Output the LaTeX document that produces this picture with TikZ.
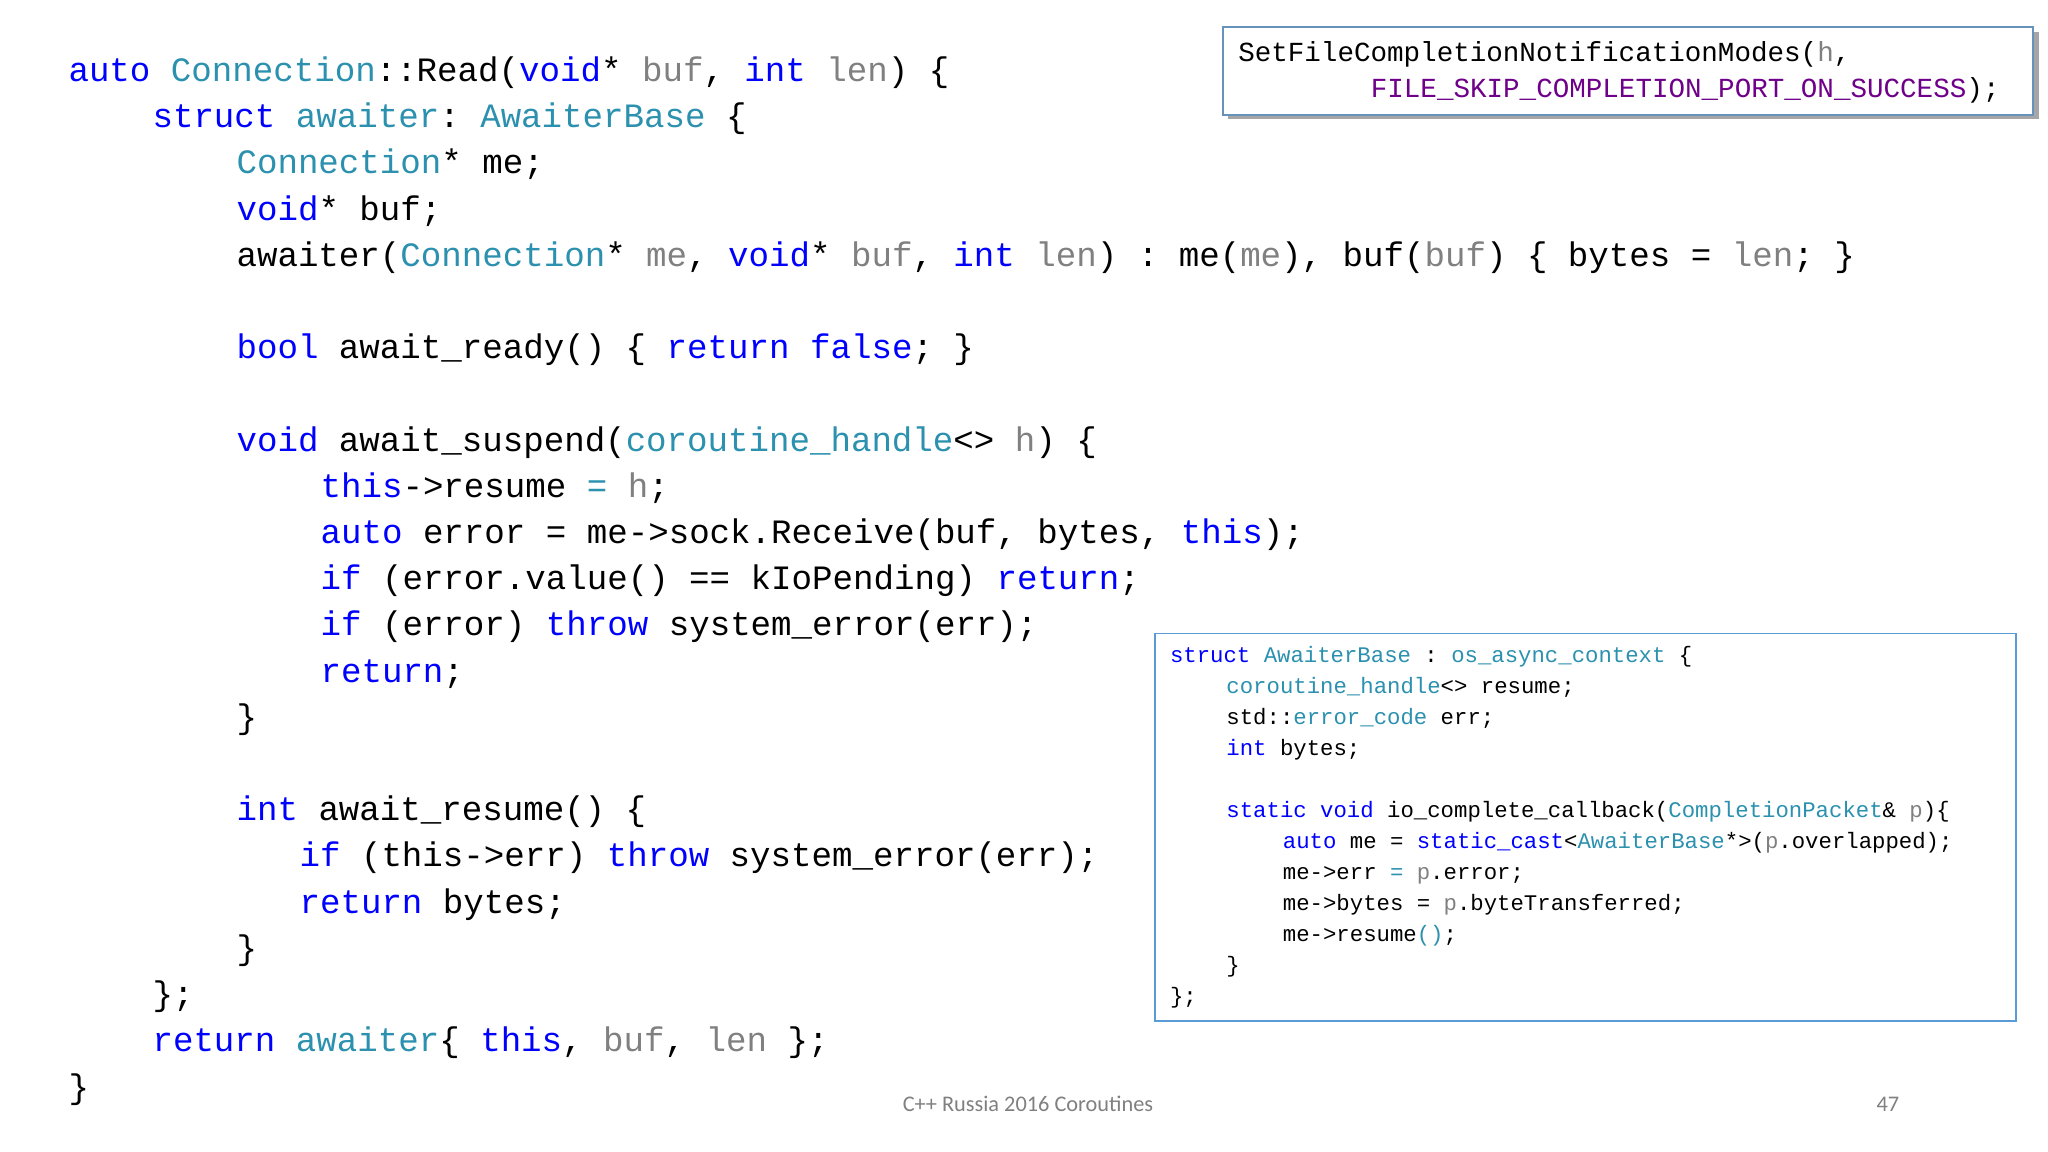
\documentclass[tikz,border=0pt]{standalone}
\usepackage{fontspec}
\setmonofont{Liberation Mono}
\newfontfamily\foot{Carlito}
\definecolor{kwc}{HTML}{0000FF}
\definecolor{tyc}{HTML}{2B91AF}
\definecolor{pac}{HTML}{808080}
\definecolor{mac}{HTML}{6F008A}
\definecolor{bxc}{HTML}{5B9BD5}
\newcommand{\kw}[1]{\textcolor{kwc}{#1}}
\newcommand{\ty}[1]{\textcolor{tyc}{#1}}
\newcommand{\pa}[1]{\textcolor{pac}{#1}}
\newcommand{\mc}[1]{\textcolor{mac}{#1}}
\begin{document}
\begin{tikzpicture}[x=1pt,y=-1pt,
  cl/.style={anchor=base west,inner sep=0pt,font=\ttfamily\fontsize{26}{26}\selectfont},
  sl/.style={anchor=base west,inner sep=0pt,font=\ttfamily\fontsize{17}{17}\selectfont},
  bl/.style={anchor=base west,inner sep=0pt,font=\ttfamily\fontsize{21}{21}\selectfont}]
\useasboundingbox[fill=white] (0,0) rectangle (1560,877.5);
\def\L#1#2#3{\node[cl] (m#1) at (#2,{62+35.2*#1}) {#3};}
\L{0}{52}{\kw{auto} \ty{Connection}::Read(\kw{void}* \pa{buf}, \kw{int} \pa{len}) \{}
\L{1}{116}{\kw{struct} \ty{awaiter}: \ty{AwaiterBase} \{}
\L{2}{180}{\ty{Connection}* me;}
\L{3}{180}{\kw{void}* buf;}
\L{4}{180}{awaiter(\ty{Connection}* \pa{me}, \kw{void}* \pa{buf}, \kw{int} \pa{len}) : me(\pa{me}), buf(\pa{buf}) \{ bytes = \pa{len}; \}}
\L{6}{180}{\kw{bool} await\_ready() \{ \kw{return} \kw{false}; \}}
\L{8}{180}{\kw{void} await\_suspend(\ty{coroutine\_handle}<> \pa{h}) \{}
\L{9}{244}{\kw{this}->resume \ty{=} \pa{h};}
\L{10}{244}{\kw{auto} error = me->sock.Receive(buf, bytes, \kw{this});}
\L{11}{244}{\kw{if} (error.value() == kIoPending) \kw{return};}
\L{12}{244}{\kw{if} (error) \kw{throw} system\_error(err);}
\L{13}{244}{\kw{return};}
\L{14}{180}{\}}
\L{16}{180}{\kw{int} await\_resume() \{}
\L{17}{228}{\kw{if} (this->err) \kw{throw} system\_error(err);}
\L{18}{228}{\kw{return} bytes;}
\L{19}{180}{\}}
\L{20}{116}{\};}
\L{21}{116}{\kw{return} \ty{awaiter}\{ \kw{this}, \pa{buf}, \pa{len} \};}
\L{22}{52}{\}}
% box 1
\fill[black!35] (935,24) rectangle (1553,91);
\node[draw=bxc!70!gray,line width=1.2pt,fill=white,minimum width=617pt,minimum height=67pt,anchor=north west,inner sep=0pt] (b1) at (931,20) {};
\node[bl] (b1a) at (943,47) {SetFileCompletionNotificationModes(\pa{h},};
\node[bl] (b1b) at (1044,74) {\mc{FILE\_SKIP\_COMPLETION\_PORT\_ON\_SUCCESS});};
% box 2
\node[draw=bxc,line width=1.2pt,fill=white,minimum width=656pt,minimum height=295pt,anchor=north west,inner sep=0pt] (b2) at (879,482) {};
\def\S#1#2#3{\node[sl] (s#1) at (#2,{505+23.6*#1}) {#3};}
\S{0}{891}{\kw{struct} \ty{AwaiterBase} : \ty{os\_async\_context} \{}
\S{1}{934}{\ty{coroutine\_handle}<> resume;}
\S{2}{934}{std::\ty{error\_code} err;}
\S{3}{934}{\kw{int} bytes;}
\S{5}{934}{\kw{static} \kw{void} io\_complete\_callback(\ty{CompletionPacket}\& \pa{p})\{}
\S{6}{977}{\kw{auto} me = \kw{static\_cast}<\ty{AwaiterBase}*>(\pa{p}.overlapped);}
\S{7}{977}{me->err \ty{=} \pa{p}.error;}
\S{8}{977}{me->bytes = \pa{p}.byteTransferred;}
\S{9}{977}{me->resume\ty{()};}
\S{10}{934}{\}}
\S{11}{891}{\};}
\node[font=\foot\fontsize{17}{17}\selectfont,text=pac,inner sep=0pt] (ft) at (783,841) {C++ Russia 2016 Coroutines};
\node[font=\foot\fontsize{17}{17}\selectfont,text=pac,inner sep=0pt] (pg) at (1438,841) {47};
\end{tikzpicture}
\end{document}
